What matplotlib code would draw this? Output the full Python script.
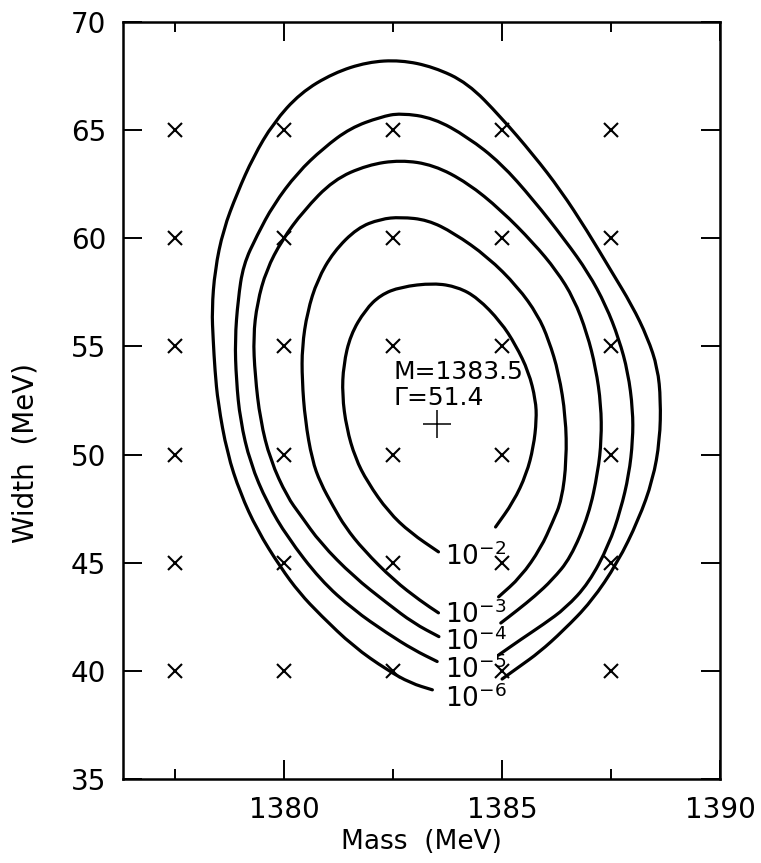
import numpy as np
import matplotlib.pyplot as plt
from matplotlib.path import Path
from matplotlib.patches import PathPatch

# best fit values
best_mass = 1383.5
best_width = 51.4

# grid of (mass, width) points where the fit was evaluated
grid_mass = [1377.5, 1380.0, 1382.5, 1385.0, 1387.5]
grid_width = [40, 45, 50, 55, 60, 65]

# likelihood contours, each traced from its left end at the label,
# up over the top and back down to its right end at the label
contour_1e2 = [
    (1383.54, 45.50), (1382.90, 46.38), (1382.39, 47.35), (1381.91, 48.73),
    (1381.63, 49.84), (1381.43, 51.23), (1381.33, 52.76), (1381.36, 54.14),
    (1381.52, 55.53), (1381.86, 56.69), (1382.21, 57.38), (1382.67, 57.75),
    (1383.43, 57.93), (1383.98, 57.75), (1384.44, 57.24), (1384.97, 56.13),
    (1385.31, 55.07), (1385.61, 53.82), (1385.77, 52.52), (1385.79, 51.60),
    (1385.72, 50.35), (1385.56, 49.10), (1385.26, 47.81), (1384.85, 46.65),
]
contour_1e3 = [
    (1383.54, 42.68), (1383.13, 43.23), (1382.51, 44.20), (1381.82, 45.59),
    (1381.40, 46.65), (1381.13, 47.58), (1380.83, 48.69), (1380.64, 49.75),
    (1380.48, 51.60), (1380.41, 53.45), (1380.41, 54.97), (1380.53, 56.59),
    (1380.76, 58.07), (1381.13, 59.37), (1381.68, 60.48), (1382.21, 60.89),
    (1382.67, 60.98), (1383.29, 60.85), (1383.89, 60.25), (1384.67, 59.14),
    (1385.36, 57.75), (1385.82, 56.45), (1386.07, 55.30), (1386.30, 53.77),
    (1386.46, 51.74), (1386.48, 49.75), (1386.37, 47.90), (1386.16, 46.88),
    (1385.89, 45.68), (1385.43, 44.34), (1384.92, 43.42),
]
contour_1e4 = [
    (1383.55, 41.58), (1382.97, 42.20), (1382.36, 43.13), (1381.59, 44.36),
    (1380.83, 45.91), (1380.37, 47.21), (1380.07, 48.04), (1379.68, 49.75),
    (1379.45, 51.60), (1379.33, 53.68), (1379.29, 55.44), (1379.38, 57.01),
    (1379.59, 58.53), (1379.95, 59.92), (1380.44, 61.26), (1381.13, 62.70),
    (1381.91, 63.39), (1382.67, 63.62), (1383.43, 63.39), (1384.21, 62.56),
    (1384.97, 61.31), (1385.72, 59.78), (1386.25, 58.50), (1386.65, 57.20),
    (1386.95, 55.60), (1387.15, 54.00), (1387.27, 52.30), (1387.28, 50.70),
    (1387.20, 49.20), (1386.99, 47.21), (1386.57, 45.22), (1386.15, 44.20),
    (1385.75, 43.45), (1385.35, 42.80), (1384.97, 42.21),
]
contour_1e5 = [
    (1383.51, 40.43), (1382.97, 40.97), (1382.36, 41.74), (1381.59, 42.82),
    (1380.83, 44.20), (1380.07, 46.19), (1379.61, 47.76), (1379.22, 49.61),
    (1378.99, 51.60), (1378.90, 53.45), (1378.87, 55.30), (1378.94, 57.15),
    (1379.06, 58.77), (1379.38, 60.15), (1379.75, 61.54), (1380.30, 63.02),
    (1380.90, 64.17), (1381.52, 65.10), (1382.21, 65.61), (1382.67, 65.79),
    (1383.43, 65.56), (1384.21, 64.68), (1384.97, 63.48), (1385.72, 61.77),
    (1386.45, 59.90), (1386.98, 58.40), (1387.38, 56.90), (1387.68, 55.35),
    (1387.89, 53.80), (1388.00, 52.06), (1388.00, 50.67), (1387.91, 49.06),
    (1387.72, 47.44), (1387.45, 45.82), (1386.99, 44.06), (1386.46, 42.90),
    (1385.95, 42.15), (1385.43, 41.45), (1384.92, 40.73),
]
contour_1e6 = [
    (1383.40, 39.12), (1382.90, 39.43), (1382.36, 40.04), (1381.59, 41.12),
    (1380.83, 42.58), (1380.35, 43.60), (1379.91, 44.80), (1379.38, 46.51),
    (1378.99, 48.22), (1378.69, 50.07), (1378.48, 52.39), (1378.41, 53.91),
    (1378.37, 55.30), (1378.34, 56.69), (1378.41, 58.53), (1378.60, 60.38),
    (1378.92, 62.09), (1379.29, 63.76), (1379.75, 65.33), (1380.37, 66.72),
    (1381.13, 67.64), (1381.91, 68.15), (1382.67, 68.24), (1383.43, 67.92),
    (1384.21, 67.18), (1384.97, 65.61), (1385.72, 63.85), (1386.34, 62.23),
    (1386.95, 60.35), (1387.50, 58.50), (1387.98, 56.90), (1388.34, 55.40),
    (1388.57, 54.00), (1388.64, 52.52), (1388.62, 50.67), (1388.46, 48.83),
    (1388.13, 46.98), (1387.65, 45.00), (1387.05, 43.20), (1386.40, 41.85),
    (1385.85, 40.85), (1385.40, 40.20), (1385.00, 39.62),
]
contours = [contour_1e2, contour_1e3, contour_1e4, contour_1e5, contour_1e6]
exponents = [-2, -3, -4, -5, -6]
label_width = [44.90, 42.21, 40.97, 39.67, 38.33]


def smooth_path(pts):
    # quadratic Bezier through the midpoints, the traced points act as control points
    pts = np.asarray(pts, dtype=float)
    mids = (pts[:-1] + pts[1:]) / 2
    verts = [pts[0], mids[0]]
    codes = [Path.MOVETO, Path.LINETO]
    for i in range(1, len(pts) - 1):
        verts += [pts[i], mids[i]]
        codes += [Path.CURVE3, Path.CURVE3]
    verts.append(pts[-1])
    codes.append(Path.LINETO)
    return Path(verts, codes)


plt.rcParams['font.family'] = ['DejaVu Sans']
plt.rcParams['mathtext.fontset'] = 'dejavusans'

fig = plt.figure(figsize=(7.61, 8.63), dpi=100)
ax = fig.add_axes([0.1616, 0.0974, 0.7845, 0.8771])

# evaluation grid
gm, gw = np.meshgrid(grid_mass, grid_width)
ax.plot(gm.ravel(), gw.ravel(), 'x', color='black', markersize=10.5, mew=1.5)

# contours with their level labels in the gap at the bottom
for pts, e, lw in zip(contours, exponents, label_width):
    ax.add_patch(PathPatch(smooth_path(pts), fill=False, edgecolor='black',
                           linewidth=2.3, capstyle='round', joinstyle='round'))
    ax.text(1383.70, lw, '$10^{%d}$' % e, fontsize=19, ha='left',
            va='baseline')

# best fit point
ax.plot([best_mass], [best_width], '+', color='black', markersize=20, mew=1.1)
ax.text(1382.50, 53.82, 'M=%.1f' % best_mass, fontsize=18, ha='left',
        va='center')
ax.text(1382.50, 52.62, '\u0393=%.1f' % best_width, fontsize=18, ha='left',
        va='center')

ax.set_xlim(1376.3, 1390)
ax.set_ylim(35, 70)
ax.set_xticks([1380, 1385, 1390])
ax.set_xticks([1377.5, 1382.5, 1387.5], minor=True)
ax.set_yticks(range(35, 71, 5))
ax.tick_params(which='both', direction='in', top=True, right=True,
               labelsize=20, width=1.4, pad=12)
ax.tick_params(which='major', length=14)
ax.tick_params(which='minor', length=7)
for s in ax.spines.values():
    s.set_linewidth(1.8)

ax.set_xlabel('Mass  (MeV)', fontsize=19, labelpad=4)
ax.set_ylabel('Width  (MeV)', fontsize=20)
ax.yaxis.set_label_coords(-0.14, 0.43)

plt.savefig('out.png', dpi=100)
